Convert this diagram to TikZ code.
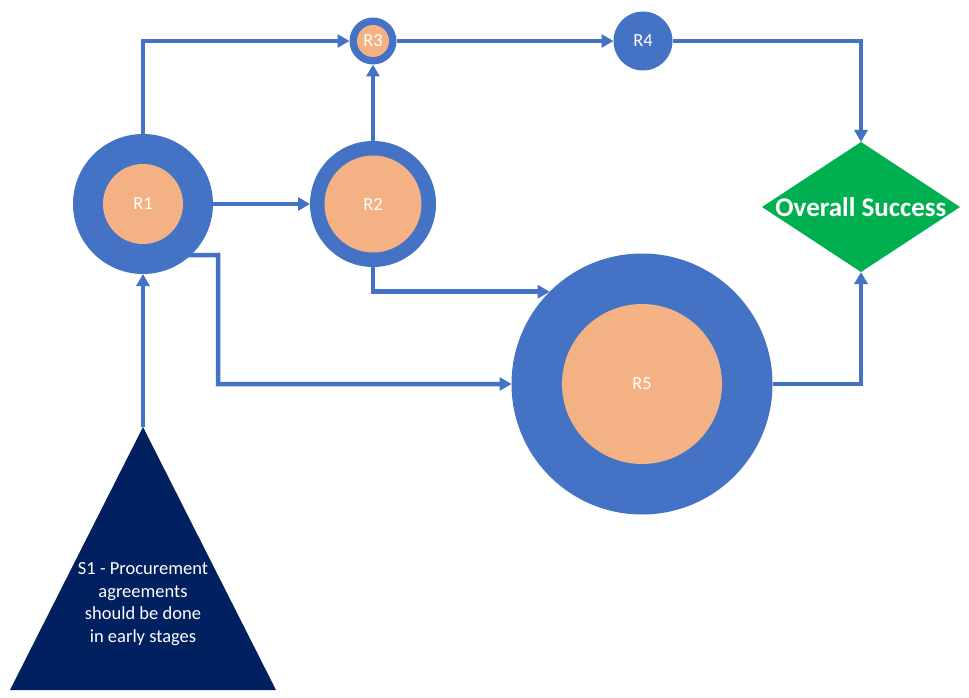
\documentclass[tikz,border=0pt]{standalone}
\usepackage{fontspec}
\setmainfont{Carlito}
\usetikzlibrary{arrows.meta,shapes.geometric,calc}
\definecolor{cblue}{HTML}{4472C4}
\definecolor{corange}{HTML}{F4B183}
\definecolor{cgreen}{HTML}{00B050}
\definecolor{cnavy}{HTML}{002060}
\begin{document}
\begin{tikzpicture}[x=1pt,y=-1pt,
  outer/.style={circle,fill=cblue,inner sep=0pt,outer sep=0pt},
  inner/.style={circle,fill=corange,inner sep=0pt,outer sep=0pt,text=white,font=\fontsize{18.5}{22}\selectfont},
  conn/.style={draw=cblue,line width=4.5pt,-{Triangle[length=12pt,width=13pt]}}]
\fill[white] (0,0) rectangle (969,698);
\useasboundingbox (0,0) rectangle (969,698);
% nodes
\node[outer,minimum size=140pt] (R1) at (143,204) {};
\node[inner,minimum size=80pt] (R1i) at (R1.center) {R1};
\node[outer,minimum size=126pt] (R2) at (373,204) {};
\node[inner,minimum size=97pt] (R2i) at (R2.center) {R2};
\node[outer,minimum size=47pt] (R3) at (373,41) {};
\node[inner,minimum size=32pt] (R3i) at (R3.center) {R3};
\node[outer,minimum size=59pt,text=white,font=\fontsize{18.5}{22}\selectfont] (R4) at (643,41) {R4};
\node[outer,minimum size=261pt] (R5) at (642,384) {};
\node[inner,minimum size=160pt] (R5i) at (R5.center) {R5};
\node[diamond,fill=cgreen,minimum width=198pt,minimum height=130pt,inner sep=0pt,outer sep=0pt] (OS) at (861,207) {};
\node[text=white,font=\bfseries\fontsize{27}{30}\selectfont,inner sep=0pt] (OSt) at (OS.center) {Overall Success};
\fill[cnavy] (143,427) -- (276,690) -- (10,690) -- cycle;
\coordinate (S1) at (143,427);
\node[text=white,align=center,font=\fontsize{18.5}{22.5}\selectfont] (S1t) at (143,604) {S1 - Procurement\\agreements\\should be done\\in early stages};
% connectors
\coordinate (c1) at (218,255);
\draw[conn] (R1.north) |- (R3.west);
\draw[conn] (R1.east) -- (R2.west);
\draw[conn] (R2.north) -- (R3.south);
\draw[conn] (R3.east) -- (R4.west);
\draw[conn] (R4.east) -| (OS.north);
\draw[conn] (R2.south) |- (R5.135.6);
\draw[conn] ($(R1.-47)+(-6,0)$) -- (c1) |- (R5.west);
\draw[conn] (R5.east) -| (OS.south);
\draw[conn] (S1) -- (R1.south);
\end{tikzpicture}
\end{document}
